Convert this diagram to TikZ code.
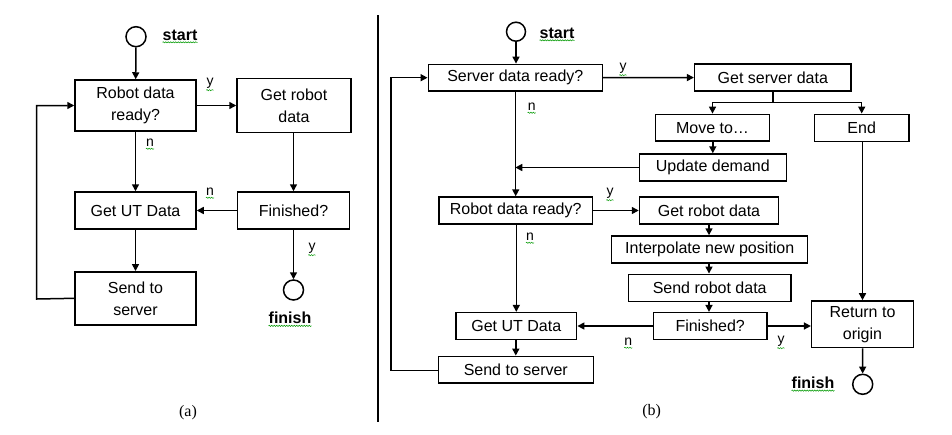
\documentclass[tikz,border=0pt]{standalone}
\usepackage{fontspec}
\setmainfont{Liberation Sans}
\newfontfamily\capfont{Liberation Serif}
\usetikzlibrary{arrows.meta,decorations.pathmorphing}
\begin{document}
\begin{tikzpicture}[x=1pt,y=-1pt,
  box/.style={draw,line width=1.5pt,rectangle,inner sep=0pt,align=center,font=\fontsize{16}{22}\selectfont},
  term/.style={draw,line width=1.5pt,circle,inner sep=0pt,minimum size=20pt},
  conn/.style={line width=1.5pt,-{Triangle[length=7pt,width=7pt]}},
  plain/.style={line width=1.5pt},
  lbl/.style={inner sep=0pt,font=\fontsize{14}{14}\selectfont},
  bold/.style={inner sep=0pt,font=\fontsize{16}{16}\selectfont\bfseries},
  squig/.style={draw=green!60!black,line width=0.5pt,decorate,decoration={snake,segment length=2.5pt,amplitude=0.6pt}}
]
\useasboundingbox (0,0) rectangle (952,434);
\fill[white] (0,0) rectangle (952,434);

% ---------- panel (a) ----------
\node[term] (sa) at (136,36.7) {};
\node[box,minimum width=121pt,minimum height=51pt] (ra) at (135.5,105.5) {Robot data\\ready?};
\node[box,minimum width=114pt,minimum height=54pt] (ga) at (294,105.5) {Get robot\\data};
\node[box,minimum width=121pt,minimum height=37pt] (ua) at (135.5,210.5) {Get UT Data};
\node[box,minimum width=112pt,minimum height=37pt] (fa) at (293.5,210.5) {Finished?};
\node[box,minimum width=121pt,minimum height=53pt] (ssa) at (135.5,298.3) {Send to\\server};
\node[term] (ea) at (293.5,290) {};
\coordinate (loopa) at (36.7,299);

\draw[conn] (sa) -- (ra);
\draw[conn] (ra) -- (ga);
\draw[conn] (ra) -- (ua);
\draw[conn] (ga.south -| fa.north) -- (fa.north);
\draw[conn] (fa) -- (ua);
\draw[conn] (ua) -- (ssa);
\draw[conn] (fa) -- (ea);
\draw[conn] (ssa.west) -- (loopa) |- (ra.west);

\node[bold] (starta) at (180,35) {start};
\node[bold] (finisha) at (290,318) {finish};
\node[lbl] (ya1) at (210,83) {y};
\node[lbl] (na1) at (150,143) {n};
\node[lbl] (na2) at (210,192) {n};
\node[lbl] (ya2) at (312,248) {y};
\node[font=\fontsize{16}{16}\selectfont\capfont] (capa) at (188,413) {(a)};

% divider
\coordinate (dtop) at (378,15);
\coordinate (dbot) at (378,422);
\draw[line width=2pt] (dtop) -- (dbot);

% ---------- panel (b) ----------
\node[term,minimum size=19pt] (sb) at (516,31.7) {};
\node[box,minimum width=174pt,minimum height=26.7pt] (srv) at (515.3,77.7) {Server data ready?};
\node[box,minimum width=156.3pt,minimum height=27pt] (gsd) at (772.8,77.5) {Get server data};
\node[box,minimum width=113.6pt,minimum height=26.7pt] (mv) at (712.5,127.7) {Move to…};
\node[box,minimum width=94.7pt,minimum height=27pt] (endb) at (861.7,127.8) {End};
\node[box,minimum width=147pt,minimum height=27pt] (ud) at (712.8,167.5) {Update demand};
\node[box,minimum width=153.3pt,minimum height=27pt] (rdr) at (515.7,210.5) {Robot data ready?};
\node[box,minimum width=139pt,minimum height=27pt] (grd) at (709,210.5) {Get robot data};
\node[box,minimum width=196pt,minimum height=27pt] (ip) at (709.7,249.5) {Interpolate new position};
\node[box,minimum width=162.7pt,minimum height=27pt] (srd) at (709.7,287.8) {Send robot data};
\node[box,minimum width=113.7pt,minimum height=26.7pt] (fin) at (710.2,326) {Finished?};
\node[box,minimum width=120.7pt,minimum height=26.7pt] (gut) at (516.3,326) {Get UT Data};
\node[box,minimum width=155pt,minimum height=26.7pt] (sts) at (515.8,369.7) {Send to server};
\node[box,minimum width=101.7pt,minimum height=46.7pt] (ret) at (862.5,324.3) {Return to\\origin};
\node[term] (fb) at (862.7,384.3) {};

\coordinate (br) at (772.8,102.7);
\coordinate (loopb) at (391,370.3);

\draw[conn] (sb) -- (sb |- srv.north);
\draw[conn] (srv) -- (gsd);
\draw[plain] (gsd.south -| br) -- (br);
\draw[conn] (br) -| (mv.north);
\draw[conn] (br) -| (endb.north);
\draw[conn] (mv.south -| ud.north) -- (ud.north);
\draw[conn] (srv.south -| rdr.north) -- (rdr.north);
\draw[conn] (ud.west) -- (srv.south |- ud.west);
\draw[conn] (rdr) -- (grd);
\draw[conn] (rdr.south -| gut.north) -- (gut.north);
\draw[conn] (grd.south) -- (grd.south |- ip.north);
\draw[conn] (grd.south |- ip.south) -- (grd.south |- srd.north);
\draw[conn] (grd.south |- srd.south) -- (grd.south |- fin.north);
\draw[conn] (fin.west) -- (fin.west -| gut.east);
\draw[conn] (fin.east) -- (fin.east -| ret.west);
\draw[conn] (endb.south -| ret.north) -- (ret.north);
\draw[conn] (ret) -- (fb);
\draw[conn] (gut.south -| sts.north) -- (sts.north);
\draw[conn] (sts.west |- loopb) -- (loopb) |- (srv.west);

\node[bold] (startb) at (557,33) {start};
\node[bold] (finishb) at (813,382.7) {finish};
\node[lbl] (yb1) at (623,68) {y};
\node[lbl] (nb1) at (531.7,107) {n};
\node[lbl] (yb2) at (610,193) {y};
\node[lbl] (nb2) at (530,237) {n};
\node[lbl] (nb3) at (628.3,342) {n};
\node[lbl] (yb3) at (781,341) {y};
\node[font=\fontsize{16}{16}\selectfont\capfont] (capb) at (651.7,412) {(b)};

\foreach \n in {starta,finisha,ya1,na1,na2,ya2,startb,finishb,yb1,nb1,yb2,nb2,nb3,yb3}
  \draw[squig] ([yshift=-1.8pt]\n.south west) -- ([yshift=-1.8pt]\n.south east);
\end{tikzpicture}
\end{document}
